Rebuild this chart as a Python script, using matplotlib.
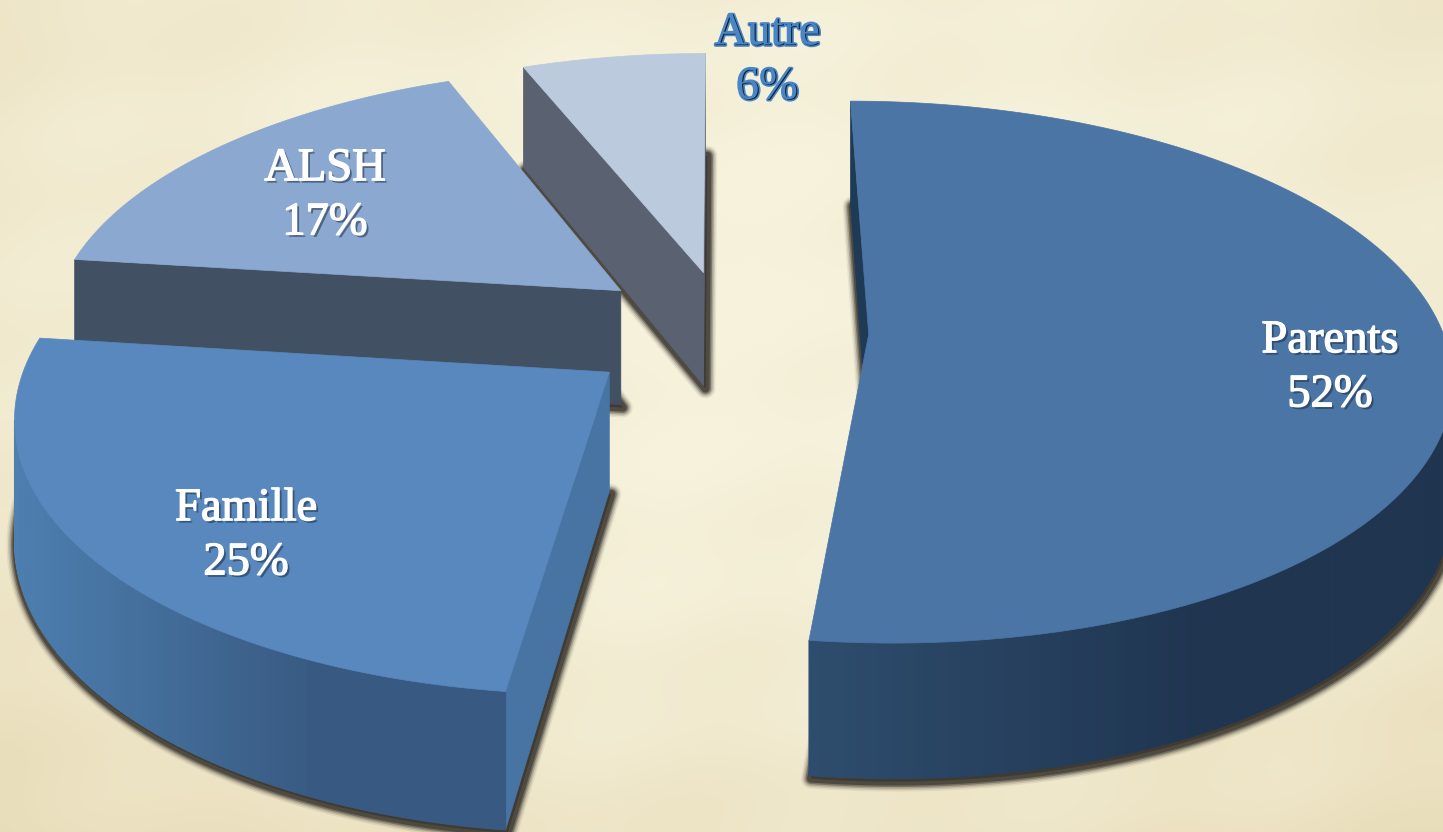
import numpy as np
import matplotlib
matplotlib.use('Agg')
import matplotlib.pyplot as plt
import matplotlib.patheffects as pe

labels = ['Parents', 'Famille', 'ALSH', 'Autre']
values = [52, 25, 17, 6]
explode_x = [148, -108, -101, -17]
explode_y = [20, 100, -76, -117]
label_x = [1330, 246, 325, 768]
label_y = [368, 536, 196, 61]

top_col = ['#4a75a5', '#5888be', '#8aa8d0', '#bccade']
wall_col = ['#1f3a55', '#4874a4', '#425064', '#5a6170']
arc_left = ['#2e4d6e', '#4d7fb0', '#425064', '#5a6170']
arc_right = ['#1f3550', '#385a82', '#425064', '#5a6170']

W, H = 1443, 832
x0, y0 = 720, 325
R = 572
tilt = 0.46
persp = 0.139
depth = 116


def proj(X, Y, z=0.0):
	s = 1.0 / (1.0 - persp * Y / R)
	return x0 + X * s, y0 + tilt * Y * s + z * s


def rim(a, ox, oy, z=0.0):
	return proj(ox + R * np.sin(a), oy - R * np.cos(a), z)


def area(pts):
	p = np.array(pts)
	return np.sum(p[:, 0] * np.roll(p[:, 1], -1) - np.roll(p[:, 0], -1) * p[:, 1])


def mix(c1, c2, t):
	a = np.array(matplotlib.colors.to_rgb(c1))
	b = np.array(matplotlib.colors.to_rgb(c2))
	return tuple(a + (b - a) * t)


fig = plt.figure(figsize=(W / 100, H / 100), dpi=100)
ax = fig.add_axes([0, 0, 1, 1])
ax.set_xlim(0, W)
ax.set_ylim(H, 0)
ax.axis('off')

# parchment background
yy, xx = np.mgrid[0:H:208j, 0:W:360j]
rr = np.hypot((xx - 760) / W, (yy - 300) / H)
tone = np.clip(rr / 0.85, 0, 1) ** 2
tone = tone + 0.10 * np.sin(xx / 61.0 + yy / 37.0) * np.sin(yy / 53.0 - xx / 97.0)
tone = np.clip(tone, 0, 1)[..., None]
bg = np.array(matplotlib.colors.to_rgb('#f6f2dc')) * (1 - tone) + np.array(matplotlib.colors.to_rgb('#e8dcb8')) * tone
ax.imshow(bg, extent=(0, W, H, 0), aspect='auto', zorder=0, interpolation='bicubic')

# slice angles, clockwise from the top
edges = np.radians(np.cumsum([0] + values) * 3.6)
order = [3, 2, 1, 0]

z = 1
for i in order:
	a0, a1 = edges[i], edges[i + 1]
	ox = explode_x[i]
	oy = explode_y[i]
	angs = np.linspace(a0, a1, max(int(np.degrees(a1 - a0)), 4) + 1)
	apex_t = proj(ox, oy)
	apex_b = proj(ox, oy, depth)
	rim_t = [rim(a, ox, oy) for a in angs]
	rim_b = [rim(a, ox, oy, depth) for a in angs]

	# soft shadow from the bottom face
	base = np.array([apex_b] + rim_b) + [2, 3]
	for lw, al in zip([20, 17, 14, 11, 8], [0.08, 0.14, 0.25, 0.45, 0.7]):
		ax.fill(base[:, 0], base[:, 1], color='#3e3a32', alpha=al, lw=lw * 0.72, joinstyle='round', zorder=z)
	z += 1

	# cut faces
	start = [apex_t, rim_t[0], rim_b[0], apex_b]
	end = [apex_t, rim_t[-1], rim_b[-1], apex_b]
	if area(start) < 0:
		q = np.array(start)
		ax.fill(q[:, 0], q[:, 1], color=wall_col[i], lw=0.5, zorder=z)
	if area(end) > 0:
		q = np.array(end)
		ax.fill(q[:, 0], q[:, 1], color=wall_col[i], lw=0.5, zorder=z)
	z += 1

	# outer wall, shaded along x
	xs = np.array([p[0] for p in rim_t])
	for k in range(len(angs) - 1):
		q = [rim_t[k], rim_t[k + 1], rim_b[k + 1], rim_b[k]]
		if area(q) < 0:
			t = np.clip((rim_t[k][0] - xs.min()) / (0.62 * (xs.max() - xs.min())), 0, 1)
			c = mix(arc_left[i], arc_right[i], t)
			q = np.array(q)
			ax.fill(q[:, 0], q[:, 1], color=c, lw=0.8, zorder=z)
	z += 1

	# top face
	q = np.array([apex_t] + rim_t)
	ax.fill(q[:, 0], q[:, 1], color=top_col[i], lw=0.5, zorder=z)
	z += 1

	# label
	txt = labels[i] + '\n' + str(values[i]) + '%'
	if labels[i] == 'Autre':
		ax.text(label_x[i], label_y[i], txt, color='#14202e', ha='center', va='center',
			family=['Liberation Serif', 'DejaVu Serif'], fontsize=33.5, linespacing=1.36, zorder=50,
			path_effects=[pe.Stroke(linewidth=2.4, foreground='#4a86c5'), pe.Normal(),
				pe.SimplePatchShadow(offset=(-0.8, 0.5), shadow_rgbFace='#4a86c5', alpha=1.0, rho=1.0)])
	else:
		ax.text(label_x[i], label_y[i], txt, color='white', ha='center', va='center',
			family=['Liberation Serif', 'DejaVu Serif'], fontsize=33.5, linespacing=1.36, zorder=50,
			path_effects=[pe.withSimplePatchShadow(offset=(1.8, -1.8), shadow_rgbFace='#1c2c40', alpha=0.55),
				pe.Stroke(linewidth=1.0, foreground='white'), pe.Normal()])

fig.savefig('out.png', dpi=100)
plt.close()
